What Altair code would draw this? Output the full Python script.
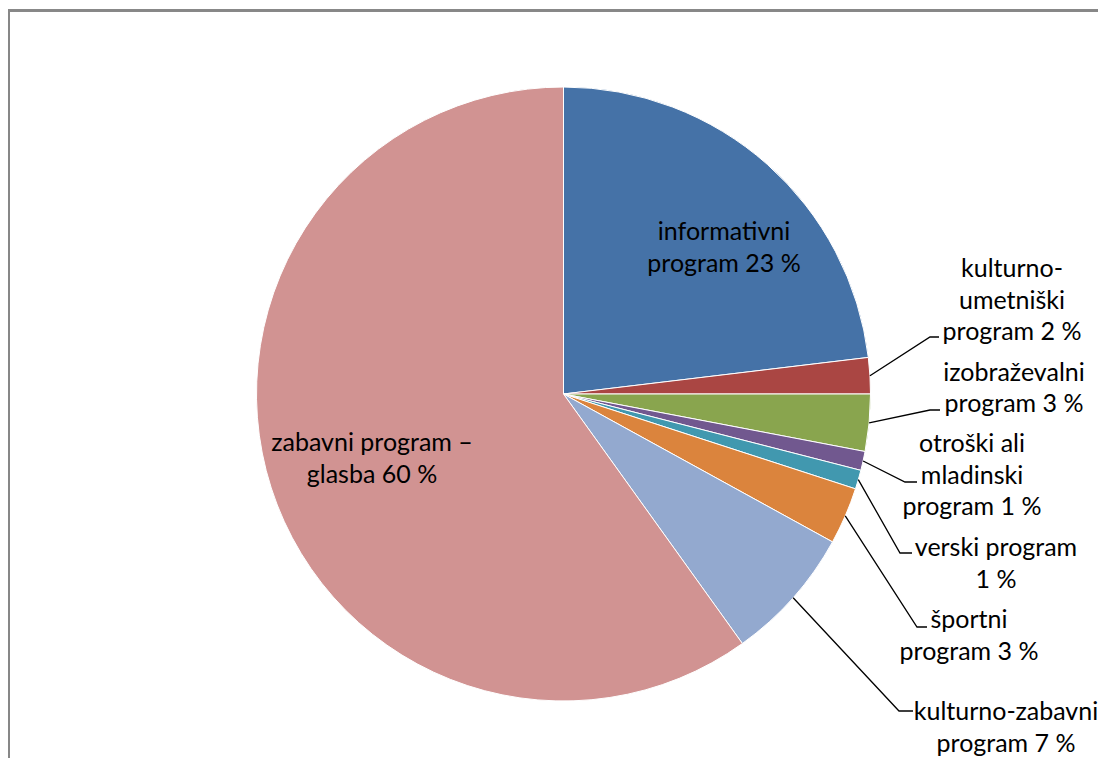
import math
import altair as alt
import pandas as pd

# ---- data ----
categories = [
    "informativni program",
    "kulturno-umetniški program",
    "izobraževalni program",
    "otroški ali mladinski program",
    "verski program",
    "športni program",
    "kulturno-zabavni program",
    "zabavni program – glasba",
]
shares = [23.1, 1.9, 3.0, 1.0, 1.0, 3.0, 7.1, 59.9]
label_texts = [
    "informativni\nprogram 23 %",
    "kulturno-\numetniški\nprogram 2 %",
    "izobraževalni\nprogram 3 %",
    "otroški ali\nmladinski\nprogram 1 %",
    "verski program\n1 %",
    "športni\nprogram  3 %",
    "kulturno-zabavni\nprogram 7 %",
    "zabavni program –\nglasba  60 %",
]
colors = ["#4572A7", "#AA4643", "#89A54E", "#71588F",
          "#4198AF", "#DB843D", "#93A9CF", "#D19392"]

# ---- layout (pixels) ----
W, H = 1090, 750
CX, CY, R = 555.5, 386, 307
LINE_H = 31.5
# (centre x, y of first line) for each label
label_pos = [(716, 224), (1004, 261), (1006, 364.5), (964, 436),
             (988, 540), (961, 612), (998, 704), (364, 435)]
# leader lines: (bend, end) for labels placed outside the pie
leader_pts = [None, ((922, 329), (931, 329)), ((922, 402), (932, 402)),
              ((897, 474), (909, 474)), ((892, 545), (904, 545)),
              ((909, 619), (919, 619)), ((891, 703), (905, 703)), None]

pie_df = pd.DataFrame({"category": categories, "share": shares,
                       "idx": list(range(len(categories)))})

lab_rows = []
for (lx, ly), txt in zip(label_pos, label_texts):
    for j, line in enumerate(txt.split("\n")):
        lab_rows.append({"line": line, "lx": lx, "ly": ly + j * LINE_H})
lab_df = pd.DataFrame(lab_rows)

total = sum(shares)
rows = []
cum = 0.0
for i, s in enumerate(shares):
    mid = (cum + s / 2) / total
    cum += s
    if leader_pts[i] is None:
        continue
    a = 2 * math.pi * mid
    sx, sy = CX + R * math.sin(a), CY - R * math.cos(a)
    (bx, by), (ex, ey) = leader_pts[i]
    for k, (px, py) in enumerate([(sx, sy), (bx, by), (ex, ey)]):
        rows.append({"leader": categories[i], "step": k, "px": px, "py": py})
lead_df = pd.DataFrame(rows)

xs = alt.Scale(domain=[0, W], range=[0, W])
ys = alt.Scale(domain=[0, H], range=[0, H])

pie = alt.Chart(pie_df).mark_arc(outerRadius=R, stroke="white", strokeWidth=1).encode(
    theta=alt.Theta("share:Q", stack=True),
    color=alt.Color("category:N", scale=alt.Scale(domain=categories, range=colors), legend=None),
    order=alt.Order("idx:Q"),
    x=alt.value(CX),
    y=alt.value(CY),
)

leaders = alt.Chart(lead_df).mark_line(color="black", strokeWidth=1.3).encode(
    x=alt.X("px:Q", scale=xs, axis=None),
    y=alt.Y("py:Q", scale=ys, axis=None),
    detail="leader:N",
    order="step:Q",
)

labels = alt.Chart(lab_df).mark_text(
    font="Lato", fontSize=25, align="center", baseline="middle", color="black",
).encode(
    x=alt.X("lx:Q", scale=xs, axis=None),
    y=alt.Y("ly:Q", scale=ys, axis=None),
    text="line:N",
)

frame_top = alt.Chart(pie_df).mark_rule(color="#878787", strokeWidth=2).encode(
    x=alt.value(0), x2=alt.value(W), y=alt.value(2.5))
frame_left = alt.Chart(pie_df).mark_rule(color="#878787", strokeWidth=2).encode(
    x=alt.value(1), y=alt.value(2), y2=alt.value(H))

chart = alt.layer(frame_top, frame_left, pie, leaders, labels).properties(
    width=W, height=H, padding=0, autosize=alt.AutoSizeParams(type="none"),
    background="white",
).configure_view(stroke=None)

chart.save("out.html", embed_options={"renderer": "svg", "actions": False})
